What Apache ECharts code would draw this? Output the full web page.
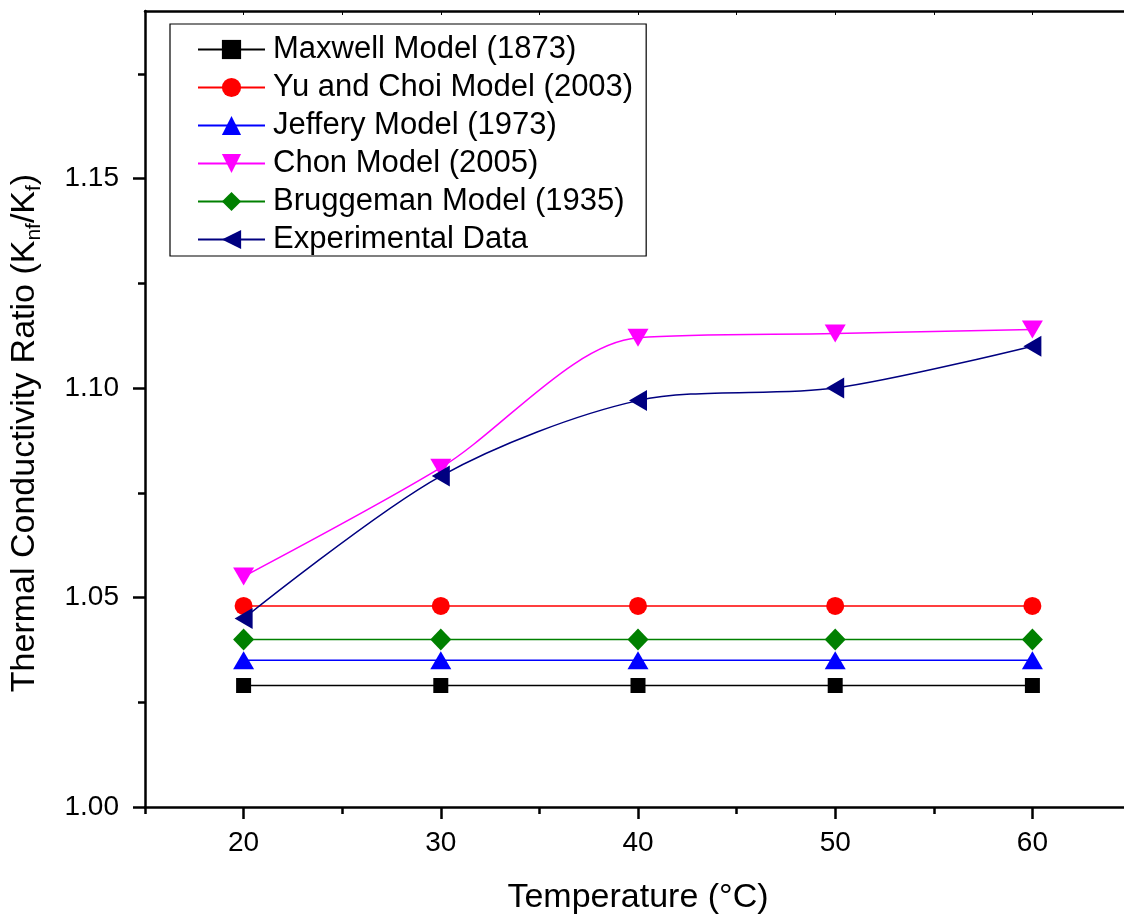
<!DOCTYPE html>
<html>
<head>
<meta charset="utf-8">
<script src="https://cdn.jsdelivr.net/npm/echarts@6/dist/echarts.min.js"></script>
<style>
html,body{margin:0;padding:0;background:#fff;}
#chart{width:1124px;height:918px;}
</style>
</head>
<body>
<div id="chart"></div>
<script>
// ---- data ----
var temperatures = [20, 30, 40, 50, 60];
var maxwell      = [1.029, 1.029, 1.029, 1.029, 1.029];
var yuChoi       = [1.048, 1.048, 1.048, 1.048, 1.048];
var jeffery      = [1.035, 1.035, 1.035, 1.035, 1.035];
var chon         = [1.055, 1.081, 1.112, 1.113, 1.114];
var bruggeman    = [1.040, 1.040, 1.040, 1.040, 1.040];
var experimental = [1.045, 1.079, 1.097, 1.100, 1.110];

var seriesNames = ['Maxwell Model (1873)', 'Yu and Choi Model (2003)', 'Jeffery Model (1973)',
                   'Chon Model (2005)', 'Bruggeman Model (1935)', 'Experimental Data'];

var xMajorTicks = [20, 30, 40, 50, 60];
var xMinorTicks = [15, 25, 35, 45, 55, 65];
var xTopTicks   = [20, 25, 30, 35, 40, 45, 50, 55, 60];
var yMajorTicks = [1.00, 1.05, 1.10, 1.15];
var yMinorTicks = [1.025, 1.075, 1.125, 1.175];

var FONT = 'Arial, "Liberation Sans", sans-serif';

function pairs(ys) { return temperatures.map(function (t, i) { return [t, ys[i]]; }); }

var chart = echarts.init(document.getElementById('chart'), null, {renderer: 'canvas'});

var axisLineStyle = {color: '#000', width: 2.5};

function mkSeries(name, ys, color, symbol, size, rotate, smooth) {
  return {
    name: name, type: 'line', data: pairs(ys),
    xAxisIndex: 0, yAxisIndex: 0,
    symbol: symbol, symbolSize: size, symbolRotate: rotate || 0,
    smooth: smooth || false,
    showAllSymbol: true,
    lineStyle: {color: color, width: 1.5},
    itemStyle: {color: color, borderWidth: 0},
    emphasis: {disabled: true},
    animation: false,
    z: 3
  };
}

var option = {
  animation: false,
  backgroundColor: '#fff',
  grid: {left: 145, top: 11, width: 986, bottom: 111, containLabel: false, outerBoundsMode: 'none'},
  legend: {
    show: true,
    left: 170, top: 24,
    orient: 'vertical',
    data: seriesNames,
    itemWidth: 67, itemHeight: 24,
    itemGap: 7,
    padding: [10, 13, 1, 27],
    borderColor: '#000', borderWidth: 1.2,
    backgroundColor: '#fff',
    textStyle: {fontFamily: FONT, fontSize: 31, color: '#000', padding: [0, 0, 0, 3]},
    selectedMode: false
  },
  xAxis: [
    {
      type: 'value', min: 15, max: 65, position: 'bottom',
      axisLine: {show: true, lineStyle: axisLineStyle, onZero: false},
      axisTick: {show: true, length: 12, inside: false, customValues: xMajorTicks, lineStyle: {width: 2.5, color: '#000'}},
      axisLabel: {show: true, customValues: xMajorTicks, margin: 22, fontFamily: FONT, fontSize: 28, color: '#000'},
      splitLine: {show: false},
      name: 'Temperature (°C)', nameLocation: 'middle', nameGap: 74,
      nameTextStyle: {fontFamily: FONT, fontSize: 34, color: '#000'}
    },
    {
      type: 'value', min: 15, max: 65, position: 'bottom',
      axisLine: {show: false, onZero: false},
      axisTick: {show: true, length: 7, inside: false, customValues: xMinorTicks, lineStyle: {width: 2.5, color: '#000'}},
      axisLabel: {show: false}, splitLine: {show: false}
    },
    {
      type: 'value', min: 15, max: 65, position: 'top',
      axisLine: {show: true, lineStyle: axisLineStyle, onZero: false},
      axisTick: {show: true, length: 4, inside: true, customValues: xTopTicks, lineStyle: {width: 1, color: '#000'}},
      axisLabel: {show: false}, splitLine: {show: false}
    }
  ],
  yAxis: [
    {
      type: 'value', min: 1.00, max: 1.19, position: 'left',
      axisLine: {show: true, lineStyle: axisLineStyle, onZero: false},
      axisTick: {show: true, length: 12, inside: false, customValues: yMajorTicks, lineStyle: {width: 2.5, color: '#000'}},
      axisLabel: {show: true, customValues: yMajorTicks, margin: 26, fontFamily: FONT, fontSize: 28, color: '#000',
                  formatter: function (v) { return v.toFixed(2); }},
      splitLine: {show: false},
      name: '{a|Thermal Conductivity Ratio (K}{s|nf}{a|/K}{s|f}{a|)}',
      nameLocation: 'middle', nameGap: 100, nameRotate: 90,
      nameTextStyle: {
        fontFamily: FONT, fontSize: 34, color: '#000', padding: [0, 48, 0, 0],
        rich: {
          a: {fontFamily: FONT, fontSize: 34, color: '#000', lineHeight: 40},
          s: {fontFamily: FONT, fontSize: 21, color: '#000', lineHeight: 22, verticalAlign: 'bottom'}
        }
      }
    },
    {
      type: 'value', min: 1.00, max: 1.19, position: 'left',
      axisLine: {show: false, onZero: false},
      axisTick: {show: true, length: 7, inside: false, customValues: yMinorTicks, lineStyle: {width: 2.5, color: '#000'}},
      axisLabel: {show: false}, splitLine: {show: false}
    }
  ],
  series: [
    mkSeries(seriesNames[0], maxwell, '#000000', 'rect', 15),
    mkSeries(seriesNames[1], yuChoi, '#FF0000', 'circle', 18),
    mkSeries(seriesNames[2], jeffery, '#0000FF', 'triangle', [21, 18]),
    mkSeries(seriesNames[3], chon, '#FF00FF', 'triangle', [21, 18], 180, 0.3),
    mkSeries(seriesNames[4], bruggeman, '#008000', 'diamond', [21, 22]),
    mkSeries(seriesNames[5], experimental, '#000080', 'triangle', [21, 18], 90, 0.3)
  ]
};

chart.setOption(option);
</script>
</body>
</html>
